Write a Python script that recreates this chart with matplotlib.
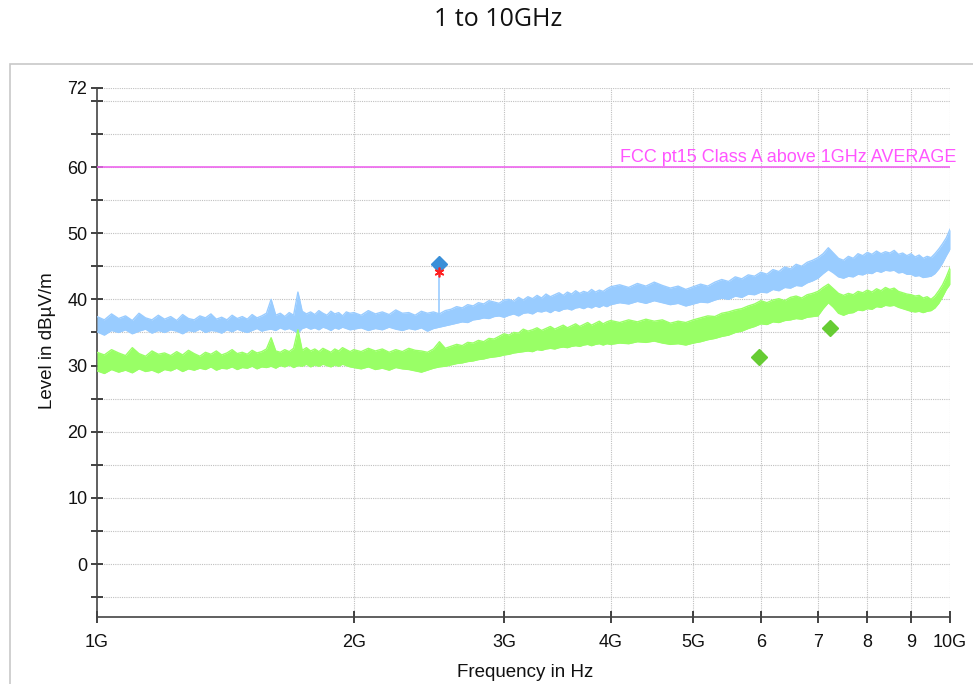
import matplotlib
matplotlib.use("Agg")
import matplotlib.pyplot as plt
from matplotlib.patches import Rectangle
from matplotlib.ticker import NullLocator

# sweep frequencies in GHz
freq_ghz = [
    1.00, 1.02, 1.04, 1.06, 1.08, 1.10, 1.12, 1.14, 1.16, 1.18,
    1.20, 1.22, 1.24, 1.26, 1.28, 1.30, 1.32, 1.34, 1.36, 1.38,
    1.40, 1.42, 1.44, 1.46, 1.48, 1.50, 1.52, 1.54, 1.56, 1.58,
    1.60, 1.62, 1.64, 1.66, 1.68, 1.70, 1.72, 1.74, 1.76, 1.78,
    1.80, 1.82, 1.84, 1.86, 1.88, 1.90, 1.92, 1.94, 1.96, 1.98,
    2.00, 2.04, 2.08, 2.12, 2.16, 2.20, 2.24, 2.28, 2.32, 2.36,
    2.40, 2.44, 2.48, 2.52, 2.56, 2.60, 2.64, 2.68, 2.72, 2.76,
    2.80, 2.84, 2.88, 2.92, 2.96, 3.00, 3.04, 3.08, 3.12, 3.16,
    3.20, 3.24, 3.28, 3.32, 3.36, 3.40, 3.44, 3.48, 3.52, 3.56,
    3.60, 3.64, 3.68, 3.72, 3.76, 3.80, 3.84, 3.88, 3.92, 3.96,
    4.0, 4.1, 4.2, 4.3, 4.4, 4.5, 4.6, 4.7, 4.8, 4.9,
    5.0, 5.1, 5.2, 5.3, 5.4, 5.5, 5.6, 5.7, 5.8, 5.9,
    6.0, 6.1, 6.2, 6.3, 6.4, 6.5, 6.6, 6.7, 6.8, 6.9,
    7.0, 7.1, 7.2, 7.3, 7.4, 7.5, 7.6, 7.7, 7.8, 7.9,
    8.0, 8.1, 8.2, 8.3, 8.4, 8.5, 8.6, 8.7, 8.8, 8.9,
    9.0, 9.1, 9.2, 9.3, 9.4, 9.5, 9.6, 9.7, 9.8, 9.9,
    10.0,
]

# peak trace (blue): upper and lower edge of the noise band, dBuV/m
peak_hi = [
    37.4, 36.9, 37.8, 37.1, 37.5, 36.8, 37.9, 37.2, 36.9, 37.6,
    37.0, 37.4, 36.8, 37.7, 37.1, 36.9, 37.5, 37.2, 37.8, 37.0,
    37.3, 36.9, 37.6, 37.1, 37.4, 37.0, 37.7, 37.2, 37.5, 37.9,
    40.0, 37.6, 37.9, 37.4, 38.0, 37.6, 41.1, 38.2, 37.8, 38.1,
    37.7, 38.3, 37.9, 37.6, 38.2, 37.8, 38.0, 37.5, 38.1, 37.9,
    38.0, 37.6, 38.3, 37.8, 38.1, 37.7, 38.4, 37.9, 38.0, 37.6,
    38.2, 37.9, 38.1, 37.8, 38.3, 38.5, 38.9, 38.7, 39.2, 39.0,
    39.5, 39.3, 39.8, 39.6, 39.4, 39.9, 40.0, 39.7, 40.3, 39.9,
    40.4, 40.1, 40.6, 40.2, 40.8, 40.4, 40.7, 41.0, 40.6, 41.1,
    40.8, 41.3, 40.9, 41.2, 41.0, 41.5, 41.1, 41.4, 41.2, 41.6,
    41.9, 42.2, 41.8, 42.4, 42.0, 42.6, 42.1, 41.7, 42.0, 41.5,
    41.9, 42.3, 42.0, 42.6, 43.0, 42.7, 43.4, 43.1, 43.7, 43.5,
    44.1, 43.8, 44.5, 44.2, 44.9, 44.6, 45.3, 45.0, 45.6, 45.9,
    46.3, 46.9, 47.8, 47.0, 46.2, 45.9, 46.5, 46.2, 46.9, 46.6,
    47.1, 46.8, 47.3, 46.9, 47.2, 47.0, 47.4, 46.8, 47.0, 46.6,
    46.9, 46.4, 46.7, 46.2, 46.5, 46.3, 46.9, 47.6, 48.4, 49.3,
    50.6,
]
peak_lo = [
    35.1, 34.6, 35.3, 35.0, 35.4, 34.8, 35.2, 35.5, 34.9, 35.3,
    35.0, 35.4, 35.2, 34.8, 35.3, 35.1, 35.5, 35.0, 35.3, 35.2,
    34.9, 35.4, 35.1, 35.5, 35.2, 35.0, 35.3, 35.6, 35.2, 35.4,
    35.5, 35.3, 35.7, 35.4, 35.6, 35.3, 34.9, 35.6, 35.8, 35.5,
    35.7, 35.4, 35.8, 35.6, 35.3, 35.7, 35.5, 35.8, 35.6, 35.4,
    35.5, 35.7, 35.3, 35.6, 35.4, 35.8, 35.5, 35.3, 35.6, 35.4,
    35.7, 35.2, 35.6, 35.8, 36.0, 36.2, 36.4, 36.6, 36.5, 36.9,
    37.0, 37.2, 37.1, 37.4, 37.5, 37.3, 37.6, 37.8, 37.5, 37.9,
    38.0, 37.8, 38.2, 38.1, 38.3, 38.0, 38.4, 38.2, 38.5, 38.6,
    38.4, 38.7, 38.8, 38.6, 38.9, 38.7, 39.0, 38.8, 39.1, 38.9,
    39.2, 39.5, 39.3, 39.7, 39.4, 39.8, 39.5, 39.2, 39.4, 39.0,
    39.3, 39.6, 39.5, 39.9, 40.2, 40.0, 40.5, 40.3, 40.8, 40.7,
    41.1, 41.0, 41.5, 41.3, 41.8, 41.7, 42.1, 42.0, 42.5, 42.8,
    43.2, 43.9, 44.5, 44.0, 43.4, 43.2, 43.5, 43.4, 43.8, 43.7,
    44.0, 43.9, 44.3, 44.1, 44.4, 44.3, 44.4, 44.0, 44.1, 43.8,
    43.8, 43.5, 43.6, 43.3, 43.4, 43.5, 43.9, 44.6, 45.5, 46.6,
    47.6,
]

# average trace (green): upper and lower edge of the noise band, dBuV/m
avg_hi = [
    32.0, 31.6, 32.4, 31.9, 31.5, 32.7, 31.8, 31.4, 32.2, 31.7,
    31.9, 31.5, 32.1, 31.6, 32.3, 31.8, 31.4, 32.0, 31.7, 32.2,
    31.6, 31.9, 32.4, 31.8, 32.0, 31.7, 32.3, 31.9, 32.1, 32.5,
    34.2, 32.2, 32.0, 32.4, 32.1, 32.6, 35.4, 32.3, 32.7, 32.2,
    32.5, 32.1, 32.6, 32.3, 32.0, 32.5, 32.2, 32.7, 32.4, 32.1,
    32.4, 32.1, 32.6, 32.2, 32.5, 32.0, 32.4, 32.1, 32.6, 32.3,
    32.2, 32.0, 32.5, 33.6, 32.6, 32.9, 33.2, 33.0, 33.5, 33.4,
    33.8, 33.6, 34.1, 34.0, 34.4, 34.8, 34.6, 35.0, 34.9, 35.5,
    35.2, 35.4, 35.7, 35.3, 35.6, 35.9, 35.5, 35.8, 36.1, 35.7,
    36.0, 36.3, 35.9, 36.2, 36.5, 36.1, 36.4, 36.7, 36.3, 36.6,
    36.8, 36.5, 36.9, 36.6, 37.0, 36.7, 36.9, 36.4, 36.7, 36.5,
    36.9, 37.2, 37.5, 37.4, 37.9, 38.1, 38.4, 38.6, 39.0, 39.3,
    39.8, 39.5, 39.9, 40.1, 39.8, 40.3, 40.5, 40.2, 40.7, 40.9,
    41.2, 41.8, 42.3, 41.6, 40.9, 40.6, 40.9, 40.7, 41.2, 41.0,
    41.4, 41.1, 41.6, 41.3, 41.8, 41.5, 41.7, 41.2, 41.0, 40.8,
    40.7, 40.5, 40.6, 40.2, 40.4, 40.0, 40.5, 41.3, 42.2, 43.4,
    44.8,
]
avg_lo = [
    29.2, 28.8, 29.4, 29.0, 29.3, 28.9, 29.5, 29.1, 29.3, 28.9,
    29.4, 29.2, 29.6, 29.1, 29.5, 29.3, 29.6, 29.4, 29.8, 29.3,
    29.6, 29.5, 29.8, 29.4, 29.7, 29.6, 29.9, 29.5, 29.8, 29.7,
    29.9, 29.6, 30.0, 29.8, 30.1, 29.7, 30.0, 29.9, 30.2, 29.8,
    30.1, 29.9, 30.2, 30.0, 29.8, 30.1, 29.9, 30.2, 30.0, 29.8,
    29.7, 29.5, 29.8, 29.4, 29.6, 29.3, 29.7, 29.5, 29.4, 29.2,
    29.0, 29.3, 29.6, 29.8, 29.9, 30.1, 30.3, 30.4, 30.6, 30.7,
    30.9, 31.0, 31.2, 31.3, 31.4, 31.6, 31.7, 31.9, 32.0, 32.1,
    32.2, 32.1, 32.4, 32.3, 32.5, 32.6, 32.5, 32.7, 32.8, 32.7,
    32.9, 33.0, 32.9, 33.1, 33.2, 33.0, 33.2, 33.3, 33.1, 33.3,
    33.2, 33.4, 33.3, 33.6, 33.5, 33.7, 33.4, 33.2, 33.3, 33.1,
    33.4, 33.6, 33.9, 34.1, 34.4, 34.6, 35.0, 35.2, 35.6, 35.9,
    36.3, 36.2, 36.6, 36.5, 36.8, 36.9, 37.1, 37.0, 37.3, 37.4,
    37.5, 38.6, 39.5, 38.8, 37.9, 37.6, 37.9, 38.0, 38.4, 38.3,
    38.6, 38.5, 38.9, 38.8, 39.1, 39.0, 39.1, 38.8, 38.6, 38.4,
    38.2, 38.1, 38.2, 38.0, 38.2, 38.3, 38.7, 39.4, 40.4, 41.5,
    42.3,
]

# limit line
limit_freq = [1.0, 10.0]
limit_level = [60, 60]
limit_name = "FCC pt15 Class A above 1GHz AVERAGE"

# final measurement points
peak_final_freq = [2.52]
peak_final_level = [45.3]
peak_stem_bottom = [37.0]
qp_final_level = [44.2]
avg_final_freq = [5.97, 7.23]
avg_final_level = [31.3, 35.6]

y_ticks = [-5, 0, 5, 10, 15, 20, 25, 30, 35, 40, 45, 50, 55, 60, 65, 70, 72]
y_labels = ["", "0", "", "10", "", "20", "", "30", "", "40", "", "50", "", "60", "", "", "72"]
x_ticks = [1, 2, 3, 4, 5, 6, 7, 8, 9, 10]
x_labels = ["1G", "2G", "3G", "4G", "5G", "6", "7", "8", "9", "10G"]

plt.rcParams['font.family'] = ['Liberation Sans', 'DejaVu Sans']

fig = plt.figure(figsize=(9.73, 6.84), dpi=100)
fig.patches.append(Rectangle((0.0103, -0.01), 1.0, 0.9164, transform=fig.transFigure,
                             fill=False, edgecolor="#c8c8c8", linewidth=1.2))
fig.text(0.512, 0.972, "1 to 10GHz", ha="center", va="center", fontsize=18,
         family=["Open Sans", "DejaVu Sans"], color="#111111")

ax = fig.add_axes([0.0997, 0.098, 0.8767, 0.7739])
ax.set_xscale("log")
ax.set_xlim(1, 10)
ax.set_ylim(-8, 72)

# noise bands
for hi, lo, col in [(peak_hi, peak_lo, "#99ccff"), (avg_hi, avg_lo, "#99ff66")]:
    ax.fill_between(freq_ghz, lo, hi, color=col, lw=0, zorder=3)
    ax.plot(freq_ghz, hi, color=col, lw=1.0, zorder=3)
    ax.plot(freq_ghz, lo, color=col, lw=1.0, zorder=3)

ax.plot(limit_freq, limit_level, color="#ee66ee", lw=1.2, zorder=4)

ax.vlines(peak_final_freq, peak_stem_bottom, peak_final_level, color="#99ccff", lw=1.2, zorder=4)
ax.plot(peak_final_freq, peak_final_level, "D", color="#3a8fd8", ms=8, zorder=6)
ax.plot(peak_final_freq, qp_final_level, marker=(6, 2, 0), ls="none", color="#ff2020",
        ms=7, mew=1.2, zorder=7)
ax.plot(avg_final_freq, avg_final_level, "D", color="#66cc33", ms=8, zorder=6)

ax.set_yticks(y_ticks)
ax.set_yticklabels(y_labels)
ax.set_xticks(x_ticks)
ax.set_xticklabels(x_labels)
ax.xaxis.set_minor_locator(NullLocator())

for yv in y_ticks:
    ax.axhline(yv, color="#c0c0c0", lw=0.8, ls=(0, (1, 1)), zorder=1)
for xv in x_ticks[1:]:
    ax.axvline(xv, color="#c0c0c0", lw=0.8, ls=(0, (1, 1)), zorder=1)

for s in ["top", "right"]:
    ax.spines[s].set_visible(False)
for s in ["left", "bottom"]:
    ax.spines[s].set_color("#444444")
    ax.spines[s].set_linewidth(1.2)
ax.tick_params(axis="both", direction="inout", length=8, width=1.2, color="#222222",
               labelsize=13, labelcolor="#111111")
ax.tick_params(axis="x", pad=8)
ax.tick_params(axis="y", pad=3)

fig.text(0.9825, 0.7632, limit_name, ha="right", va="baseline", fontsize=13,
         color="#ff55ff")
fig.text(0.0493, 0.5015, "Level in dBµV/m", rotation=90, ha="center", va="center",
         fontsize=13.5, color="#111111")
fig.text(0.54, 0.004, "Frequency in Hz", ha="center", va="bottom", fontsize=13.5,
         color="#111111")

fig.savefig("out.png", dpi=100)
